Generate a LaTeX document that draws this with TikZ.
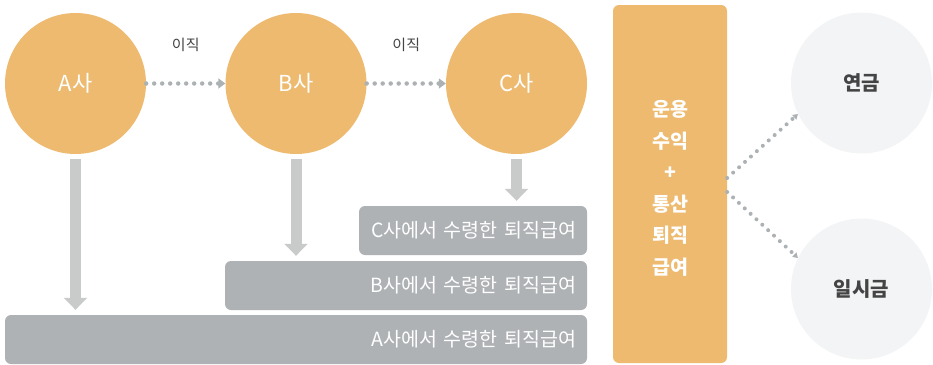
\documentclass[tikz,border=0pt]{standalone}
\usepackage{fontspec}
\setmainfont{Noto Sans CJK KR}
\usetikzlibrary{arrows.meta}
\definecolor{orng}{HTML}{EDBA70}
\definecolor{bargray}{HTML}{AEB2B4}
\definecolor{shaftgray}{HTML}{C9CBCB}
\definecolor{dotgray}{HTML}{ACB1B4}
\definecolor{palegray}{HTML}{F3F4F6}
\definecolor{darktext}{HTML}{444444}

\tikzset{
  firm/.style={circle,fill=orng,minimum size=141pt,inner sep=0pt,text=white,font=\fontsize{22}{22}\selectfont},
  payout/.style={circle,fill=palegray,minimum size=141pt,inner sep=0pt,text=darktext,font=\fontsize{20}{20}\selectfont\bfseries},
  benefit/.style={rounded corners=6pt,fill=bargray,text=white,minimum height=49pt,inner xsep=11pt,align=right,font=\fontsize{19.5}{20}\selectfont},
  moveline/.style={dotgray,line width=4.5pt,dash pattern=on 0pt off 8pt,line cap=round,-{Triangle[length=7pt,width=10pt]}},
  splitline/.style={dotgray,line width=4pt,dash pattern=on 0pt off 8pt,line cap=round,-{Triangle[length=5pt,width=6pt]}},
  downarrow/.style={shaftgray,line width=11pt,shorten <=5pt,shorten >=5pt,-{Triangle[length=12pt,width=23pt]}}
}

\begin{document}
\begin{tikzpicture}[x=1pt,y=-1pt]
\useasboundingbox (0,0) rectangle (933,364);

% companies
\node[firm] (a) at (75.5,83.5) {A사};
\node[firm] (b) at (296,83.5) {B사};
\node[firm] (c) at (516.5,83.5) {C사};

% benefits received
\node[benefit,text width=206pt] (barc) at (473,230.5) {C사에서 수령한 퇴직급여};
\node[benefit,text width=340pt] (barb) at (406,285.5) {B사에서 수령한 퇴직급여};
\node[benefit,text width=560pt] (bara) at (296,339.5) {A사에서 수령한 퇴직급여};

% job changes
\draw[moveline] (a.east) -- (b.west) node[midway,yshift=38.5pt,text=darktext,font=\fontsize{15}{15}\selectfont] {이직};
\draw[moveline] (b.east) -- (c.west) node[midway,yshift=38.5pt,text=darktext,font=\fontsize{15}{15}\selectfont] {이직};

% transfers
\draw[downarrow] (a.south) -- (a.south |- bara.north);
\draw[downarrow] (b.south) -- (b.south |- barb.north);
\draw[downarrow] (c.south) -- (c.south |- barc.north);

% total
\node[rounded corners=6pt,fill=orng,minimum width=114pt,minimum height=358pt,inner sep=0pt] (pool) at (670,184) {};
\node[text=white,align=center,font=\fontsize{19.5}{31.5}\selectfont\bfseries] (pooltext) at (670,188.5) {운용\\수익\\+\\통산\\퇴직\\급여};

% payout options
\node[payout] (pension) at (861.5,83) {연금};
\node[payout] (lump) at (861.5,289) {일시금};
\draw[splitline] ([yshift=6pt]pool.east) -- (pension.206);
\draw[splitline] ([yshift=-8pt]pool.east) -- (lump.154);
\end{tikzpicture}
\end{document}
